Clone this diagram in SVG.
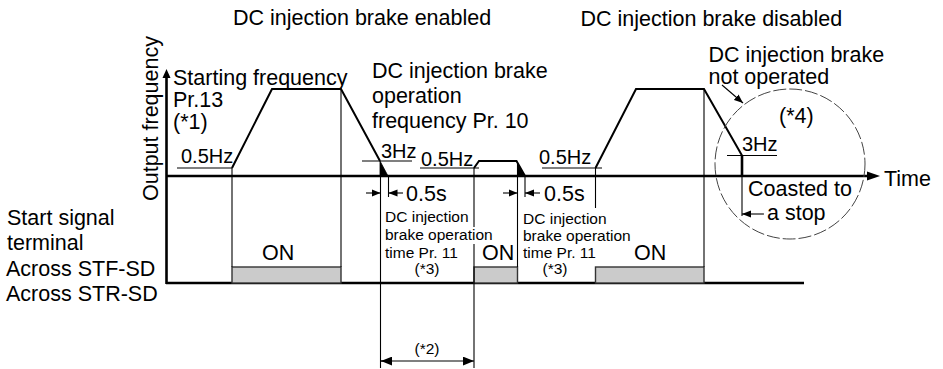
<svg xmlns="http://www.w3.org/2000/svg" width="943" height="369" viewBox="0 0 943 369">
<style>
text{font-family:"Liberation Sans",Arial,sans-serif;fill:#000}
.b{font-size:21.5px}
.m{font-size:20px}
.s{font-size:15.5px}
.w{fill:none;stroke:#000;stroke-width:2;stroke-linejoin:miter}
.t{fill:none;stroke:#000;stroke-width:1.1}
.ax{fill:none;stroke:#000;stroke-width:2.6}
.on{fill:#cbcbcb;stroke:#333;stroke-width:1.4}
.tri{fill:#000;stroke:#000;stroke-width:0.8}
</style>
<defs>
<marker id="ah" viewBox="0 0 10 8" refX="10" refY="4" markerWidth="9" markerHeight="7.5" markerUnits="userSpaceOnUse" orient="auto">
<path d="M0,0 L10,4 L0,8 z" fill="#000"/>
</marker>
<marker id="ah2" viewBox="0 0 10 8" refX="10" refY="4" markerWidth="11" markerHeight="9" markerUnits="userSpaceOnUse" orient="auto">
<path d="M0,0 L10,4 L0,8 z" fill="#000"/>
</marker>
</defs>
<rect width="943" height="369" fill="#fff"/>

<g id="axes">
<line class="ax" x1="166.5" y1="76" x2="166.5" y2="284"/>
<path d="M166.5,69 L162.5,78 L170.5,78 z" fill="#000"/>
<line class="ax" x1="166" y1="176" x2="868" y2="176"/>
<path d="M880,176 L867,171.5 L867,180.5 z" fill="#000"/>
<line class="ax" x1="166" y1="283" x2="804" y2="283"/>
<text class="b" transform="translate(158,201) rotate(-90)">Output frequency</text>
<text class="b" x="884" y="186">Time</text>
</g>

<g id="signals">
<rect class="on" x="232" y="267" width="109" height="16"/>
<rect class="on" x="474" y="267" width="43.5" height="16"/>
<rect class="on" x="595.5" y="267" width="108.5" height="16"/>
<text class="b" x="262" y="260">ON</text>
<text class="b" x="482" y="260">ON</text>
<text class="b" x="634" y="260">ON</text>
</g>

<g id="pulse1">
<line class="t" x1="177" y1="168" x2="232" y2="168"/>
<polyline class="w" points="232,168 272,89 341,89 380,161"/>
<polygon class="tri" points="380,161 380,176 388,176"/>
<line class="t" x1="232" y1="168" x2="232" y2="267"/>
<line class="t" x1="341" y1="89" x2="341" y2="267"/>
<line class="t" x1="362" y1="161" x2="412" y2="161"/>
<text class="m" x="181" y="163">0.5Hz</text>
<text class="m" x="381" y="158">3Hz</text>
</g>

<g id="pulse2">
<line class="t" x1="420" y1="168" x2="479" y2="168"/>
<polyline class="w" points="474,168 479,161 516.5,161 525,176"/>
<polygon class="tri" points="518,164.5 518,176 525,176"/>
<line class="t" x1="474" y1="168" x2="474" y2="227"/>
<line class="t" x1="474" y1="244" x2="474" y2="368"/>
<line class="t" x1="517.5" y1="164" x2="517.5" y2="267"/>
<text class="m" x="421" y="166">0.5Hz</text>
</g>

<g id="pulse3">
<line class="t" x1="542" y1="168" x2="602" y2="168"/>
<polyline class="w" points="595.5,168 636,89 704,89 742,155.5"/>
<line x1="742" y1="155.5" x2="742" y2="176" stroke="#000" stroke-width="2.6"/>
<line class="t" x1="595.5" y1="168" x2="595.5" y2="208"/>
<line class="t" x1="704" y1="89" x2="704" y2="267"/>
<line class="t" x1="727" y1="155.5" x2="777" y2="155.5"/>
<text class="m" x="539" y="164">0.5Hz</text>
<text class="m" x="742" y="151">3Hz</text>
</g>

<g id="dimensions">
<line class="t" x1="380.5" y1="176" x2="380.5" y2="368"/>
<line class="t" x1="388.5" y1="176" x2="388.5" y2="197"/>
<line class="t" x1="366" y1="193" x2="380.5" y2="193" marker-end="url(#ah)"/>
<line class="t" x1="403" y1="193" x2="388.5" y2="193" marker-end="url(#ah)"/>
<text class="b" x="406" y="201">0.5s</text>
<line class="t" x1="525" y1="176" x2="525" y2="197"/>
<line class="t" x1="503" y1="193" x2="517.5" y2="193" marker-end="url(#ah)"/>
<line class="t" x1="540" y1="193" x2="525" y2="193" marker-end="url(#ah)"/>
<text class="b" x="544" y="201">0.5s</text>
<line class="t" x1="391" y1="361" x2="381" y2="361" marker-end="url(#ah2)"/>
<line class="t" x1="381" y1="361" x2="474" y2="361" marker-end="url(#ah2)"/>
<text class="s" x="427" y="354" text-anchor="middle">(*2)</text>
</g>

<g id="brake-time-1">
<text class="s" x="385" y="222">DC injection</text>
<text class="s" x="385" y="240">brake operation</text>
<text class="s" x="385" y="258">time Pr. 11</text>
<text class="s" x="427" y="274" text-anchor="middle">(*3)</text>
</g>

<g id="brake-time-2">
<text class="s" x="523" y="224">DC injection</text>
<text class="s" x="523" y="241">brake operation</text>
<text class="s" x="523" y="258">time Pr. 11</text>
<text class="s" x="555" y="274" text-anchor="middle">(*3)</text>
</g>

<g id="labels">
<text class="b" x="233" y="25">DC injection brake enabled</text>
<text class="b" x="580.5" y="26">DC injection brake disabled</text>
<text class="b" x="173" y="85">Starting frequency</text>
<text class="b" x="173" y="107">Pr.13</text>
<text class="b" x="173" y="129">(*1)</text>
<text class="b" x="372" y="78">DC injection brake</text>
<text class="b" x="372" y="103">operation</text>
<text class="b" x="372" y="128">frequency Pr. 10</text>
<text class="b" x="7" y="225">Start signal</text>
<text class="b" x="7" y="250">terminal</text>
<text class="b" x="6" y="276">Across STF-SD</text>
<text class="b" x="6" y="301">Across STR-SD</text>
</g>

<g id="not-operated">
<circle cx="790" cy="164" r="75" fill="none" stroke="#444" stroke-width="1" stroke-dasharray="13 3"/>
<line class="t" x1="722" y1="85" x2="743" y2="103" marker-end="url(#ah)"/>
<text class="b" x="708.5" y="62">DC injection brake</text>
<text class="b" x="708.5" y="84">not operated</text>
<text class="b" x="779" y="123">(*4)</text>
<text class="b" x="748" y="196">Coasted to</text>
<line class="t" x1="742" y1="176" x2="742" y2="216"/>
<line class="t" x1="764" y1="214" x2="742" y2="214" marker-end="url(#ah)"/>
<text class="b" x="767" y="220">a stop</text>
</g>
</svg>
